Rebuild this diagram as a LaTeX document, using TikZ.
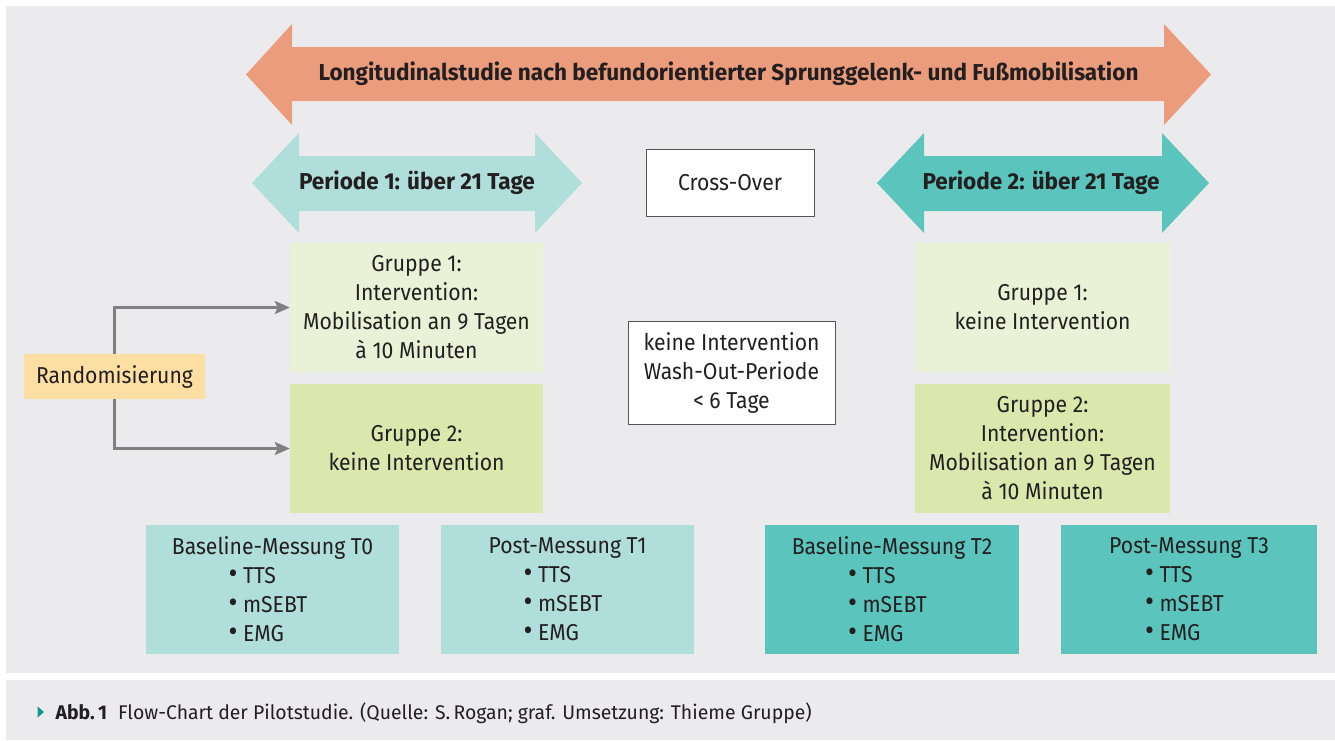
\documentclass[tikz,border=0pt]{standalone}
\usepackage{fontspec}
\setmainfont{Fira Sans}[FakeStretch=0.92, BoldFeatures={FakeStretch=0.98}]
\newfontfamily\capfont{Fira Sans}[FakeStretch=0.98]
\usetikzlibrary{arrows.meta}
\definecolor{bggray}{HTML}{EBEBED}
\definecolor{salmon}{HTML}{EB9C7C}
\definecolor{lteal}{HTML}{B0DEDA}
\definecolor{dteal}{HTML}{5BC4BC}
\definecolor{lgreen}{HTML}{E9F2D6}
\definecolor{mgreen}{HTML}{DAE8AE}
\definecolor{orng}{HTML}{FDDFA4}
\definecolor{txt}{HTML}{231F20}
\definecolor{conngray}{HTML}{808080}
\definecolor{bordergray}{HTML}{555555}
\definecolor{capteal}{HTML}{11968F}
\newcommand{\blt}[1]{\makebox[88pt][l]{\scalebox{1.3}{\textbullet}\ #1}}
\begin{document}
\begin{tikzpicture}[x=1pt,y=-1pt,
  every node/.style={text=txt, font=\fontsize{23}{29}\selectfont, inner sep=0pt},
  box/.style={align=center, minimum width=#1},
  box/.default=253pt,
  wbox/.style={draw=bordergray, line width=1pt, fill=white, align=center},
  conn/.style={draw=conngray, line width=2.6pt, -{Stealth[length=15pt,width=13pt,inset=3pt]}},
  lbl/.style={font=\bfseries\fontsize{23}{29}\selectfont}
]
\useasboundingbox (0,0) rectangle (1335,740);
\fill[white] (0,0) rectangle (1335,740);
\fill[bggray] (6,6) rectangle (1335,673);
\fill[bggray] (6,680) rectangle (1335,740);

% big arrow
\fill[salmon] (246,74.5) -- (292,24) -- (292,47) -- (1164,47) -- (1164,24) -- (1211,74.5)
  -- (1164,125) -- (1164,101) -- (292,101) -- (292,125) -- cycle;
\node[lbl] (title) at (728.5,74) {Longitudinalstudie nach befundorientierter Sprunggelenk- und Fußmobilisation};

% period arrows
\fill[lteal] (252,183) -- (299,133) -- (299,156) -- (535,156) -- (535,133) -- (582,183)
  -- (535,233) -- (535,211) -- (299,211) -- (299,233) -- cycle;
\node[lbl] (p1) at (417,183) {Periode 1: über 21 Tage};
\fill[dteal] (877,183) -- (924,133) -- (924,156) -- (1162,156) -- (1162,133) -- (1209,183)
  -- (1162,233) -- (1162,211) -- (924,211) -- (924,233) -- cycle;
\node[lbl] (p2) at (1041,183) {Periode 2: über 21 Tage};

\node[wbox, minimum width=168pt, minimum height=67pt] (cross) at (730,182.5) {Cross-Over};

% groups left
\node[box, fill=lgreen, minimum height=129pt] (g1) at (416.5,307.5)
  {Gruppe 1:\\Intervention:\\Mobilisation an 9 Tagen\\à 10 Minuten};
\node[box, fill=mgreen, minimum height=129pt] (g2) at (416.5,448.5)
  {Gruppe 2:\\keine Intervention};

% groups right
\node[box=255pt, fill=lgreen, minimum height=129pt] (h1) at (1042.5,307.5)
  {Gruppe 1:\\keine Intervention};
\node[box=255pt, fill=mgreen, minimum height=129pt] (h2) at (1042.5,448.5)
  {Gruppe 2:\\Intervention:\\Mobilisation an 9 Tagen\\à 10 Minuten};

\node[wbox, minimum width=207pt, minimum height=103pt] (wash) at (731.5,372.5)
  {keine Intervention\\Wash-Out-Periode\\< 6 Tage};

% randomisation
\node[fill=orng, minimum width=181pt, minimum height=45pt] (rand) at (114.5,376.5) {Randomisierung};
\draw[conn] (rand.north) |- (g1.west);
\draw[conn] (rand.south) |- (g2.west);

% measurements
\node[box, fill=lteal, minimum height=129pt] (t0) at (272.5,589.5)
  {Baseline-Messung T0\\\blt{TTS}\\\blt{mSEBT}\\\blt{EMG}};
\node[box, fill=lteal, minimum height=129pt] (t1) at (567.5,589.5)
  {Post-Messung T1\\\blt{TTS}\\\blt{mSEBT}\\\blt{EMG}};
\node[box=254pt, fill=dteal, minimum height=129pt] (t2) at (892,589.5)
  {Baseline-Messung T2\\\blt{TTS}\\\blt{mSEBT}\\\blt{EMG}};
\node[box=256pt, fill=dteal, minimum height=129pt] (t3) at (1189,589.5)
  {Post-Messung T3\\\blt{TTS}\\\blt{mSEBT}\\\blt{EMG}};

% caption
\fill[capteal] (37.7,706.5) -- (44,712) -- (37.7,717.5) -- cycle;
\node[anchor=base west, font=\capfont\fontsize{19.8}{22}\selectfont] (cap) at (55.5,719)
  {\textbf{Abb.\,1}\hspace{11pt}Flow-Chart der Pilotstudie. (Quelle: S.\,Rogan; graf. Umsetzung: Thieme Gruppe)};
\end{tikzpicture}
\end{document}
